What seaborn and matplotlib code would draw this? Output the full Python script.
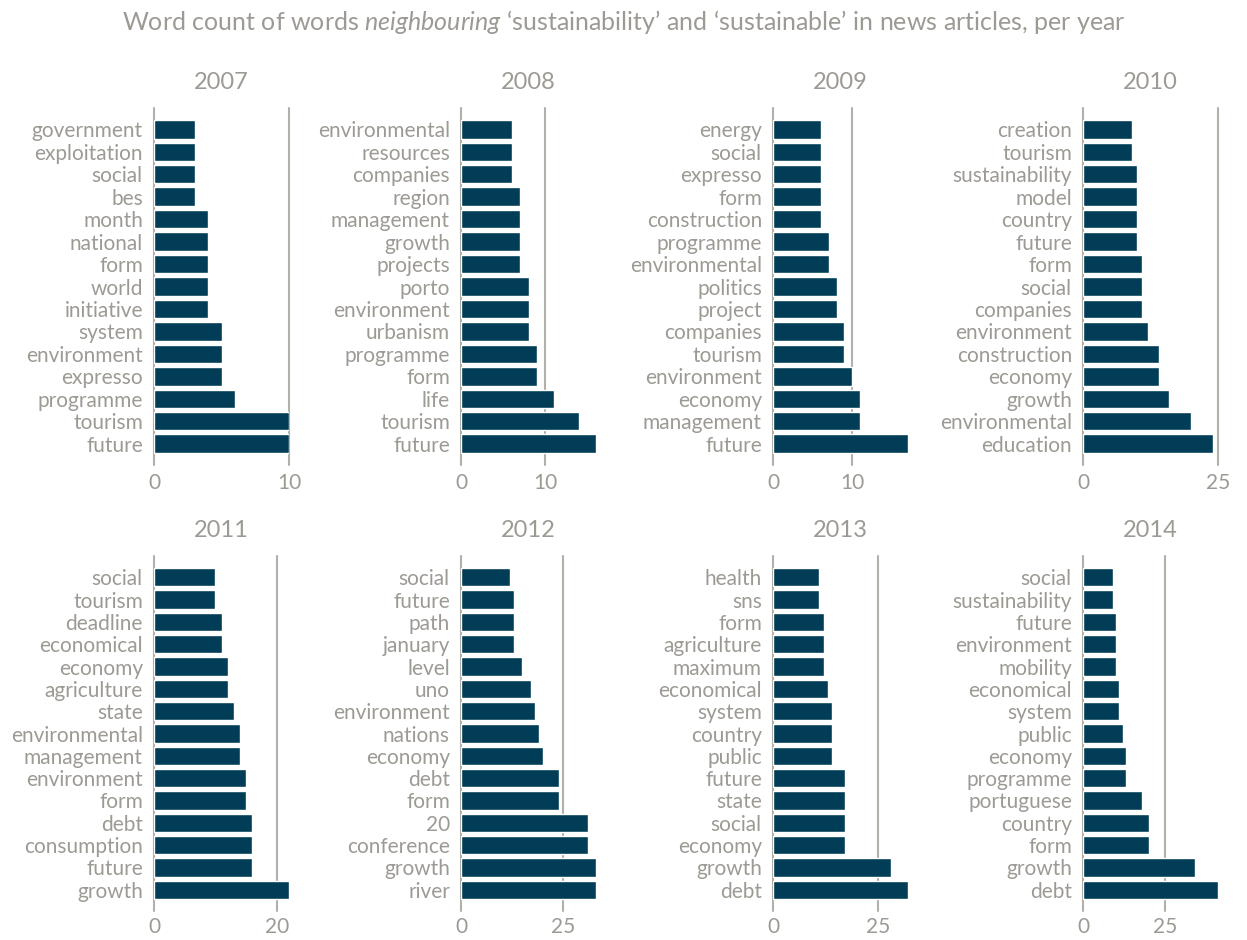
import numpy as np
import pandas as pd
import matplotlib
matplotlib.use("Agg")
import matplotlib.pyplot as plt
import seaborn as sns

# ---------------- data ----------------
years = ["2007", "2008", "2009", "2010", "2011", "2012", "2013", "2014"]

words_2007 = ["government", "exploitation", "social", "bes", "month", "national", "form", "world",
              "initiative", "system", "environment", "expresso", "programme", "tourism", "future"]
counts_2007 = [3, 3, 3, 3, 4, 4, 4, 4, 4, 5, 5, 5, 6, 10, 10]

words_2008 = ["environmental", "resources", "companies", "region", "management", "growth", "projects",
              "porto", "environment", "urbanism", "programme", "form", "life", "tourism", "future"]
counts_2008 = [6, 6, 6, 7, 7, 7, 7, 8, 8, 8, 9, 9, 11, 14, 16]

words_2009 = ["energy", "social", "expresso", "form", "construction", "programme", "environmental",
              "politics", "project", "companies", "tourism", "environment", "economy", "management", "future"]
counts_2009 = [6, 6, 6, 6, 6, 7, 7, 8, 8, 9, 9, 10, 11, 11, 17]

words_2010 = ["creation", "tourism", "sustainability", "model", "country", "future", "form", "social",
              "companies", "environment", "construction", "economy", "growth", "environmental", "education"]
counts_2010 = [9, 9, 10, 10, 10, 10, 11, 11, 11, 12, 14, 14, 16, 20, 24]

words_2011 = ["social", "tourism", "deadline", "economical", "economy", "agriculture", "state",
              "environmental", "management", "environment", "form", "debt", "consumption", "future", "growth"]
counts_2011 = [10, 10, 11, 11, 12, 12, 13, 14, 14, 15, 15, 16, 16, 16, 22]

words_2012 = ["social", "future", "path", "january", "level", "uno", "environment", "nations",
              "economy", "debt", "form", "20", "conference", "growth", "river"]
counts_2012 = [12, 13, 13, 13, 15, 17, 18, 19, 20, 24, 24, 31, 31, 33, 33]

words_2013 = ["health", "sns", "form", "agriculture", "maximum", "economical", "system", "country",
              "public", "future", "state", "social", "economy", "growth", "debt"]
counts_2013 = [11, 11, 12, 12, 12, 13, 14, 14, 14, 17, 17, 17, 17, 28, 32]

words_2014 = ["social", "sustainability", "future", "environment", "mobility", "economical", "system",
              "public", "economy", "programme", "portuguese", "country", "form", "growth", "debt"]
counts_2014 = [9, 9, 10, 10, 10, 11, 11, 12, 13, 13, 18, 20, 20, 34, 41]

ticks = {"2007": [0, 10], "2008": [0, 10], "2009": [0, 10], "2010": [0, 25],
         "2011": [0, 20], "2012": [0, 25], "2013": [0, 25], "2014": [0, 25]}

all_words = [words_2007, words_2008, words_2009, words_2010,
             words_2011, words_2012, words_2013, words_2014]
all_counts = [counts_2007, counts_2008, counts_2009, counts_2010,
              counts_2011, counts_2012, counts_2013, counts_2014]

# ---------------- style ----------------
sns.set_theme(style="white")
plt.rcParams["font.family"] = ["Lato", "DejaVu Sans"]
plt.rcParams["mathtext.fontset"] = "custom"
plt.rcParams["mathtext.rm"] = "Lato"
plt.rcParams["mathtext.it"] = "Lato:italic"

TEXT = "#9d9a94"
BAR = "#023d57"
GRID = "#b3b0aa"

W, H = 1247, 940
fig = plt.figure(figsize=(W / 100, H / 100), dpi=100)
fig.patch.set_facecolor("white")

lefts = [154, 461, 773, 1083]
ax_w = 135
rows = [(108, 465), (556, 911)]

for i, yr in enumerate(years):
    r, c = divmod(i, 4)
    top, bot = rows[r]
    ax = fig.add_axes([lefts[c] / W, 1 - bot / H, ax_w / W, (bot - top) / H])
    df = pd.DataFrame({"word": all_words[i], "count": all_counts[i]})
    sns.barplot(data=df, x="count", y="word", order=all_words[i], orient="h",
                color=BAR, saturation=1, width=0.82, ax=ax, zorder=3)
    n = len(all_words[i])
    ax.set_ylim(n - 0.5 + 0.45, -0.5 - 0.45)
    ax.set_xlim(0, max(all_counts[i]))
    ax.set_xticks(ticks[yr])
    ax.set_xlabel("")
    ax.set_ylabel("")
    for s in ax.spines.values():
        s.set_visible(False)
    ax.set_axisbelow(True)
    ax.grid(axis="x", color=GRID, linewidth=1.5)
    ax.grid(axis="y", visible=False)
    for gl in ax.get_xgridlines():
        gl.set_clip_on(False)
    ax.tick_params(axis="y", length=0, pad=8, labelsize=15, labelcolor=TEXT)
    ax.tick_params(axis="x", length=0, pad=4 if r == 1 else 6, labelsize=15, labelcolor=TEXT)
    ax.set_title(yr, color=TEXT, fontsize=17, pad=14)
    ax.set_facecolor("white")

fig.text(0.5, 1 - 22 / H,
         r"Word count of words $\it{neighbouring}$ ‘sustainability’ and ‘sustainable’ in news articles, per year",
         ha="center", va="center", color=TEXT, fontsize=18)

fig.savefig("out.png", dpi=100, facecolor="white")
